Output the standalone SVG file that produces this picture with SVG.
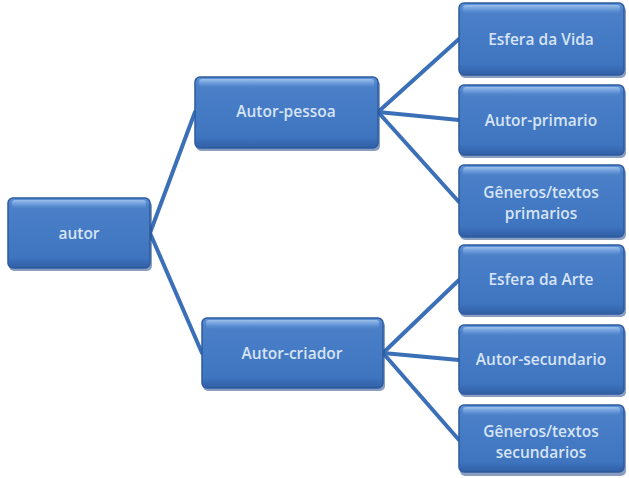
<svg xmlns="http://www.w3.org/2000/svg" width="629" height="478" viewBox="0 0 629 478">
<defs>
<linearGradient id="g" x1="0" y1="0" x2="0" y2="1">
<stop offset="0" stop-color="#5f94d8"/>
<stop offset="0.12" stop-color="#4b80c9"/>
<stop offset="0.85" stop-color="#3f74bf"/>
<stop offset="1" stop-color="#2f5fa6"/>
</linearGradient>
<linearGradient id="hl" x1="0" y1="0" x2="0" y2="1">
<stop offset="0" stop-color="#9cc0ec"/>
<stop offset="1" stop-color="#6a9bdc" stop-opacity="0"/>
</linearGradient>
<style>
.box{fill:url(#g);stroke:#2d5b9e;stroke-width:1.5}
.sh{fill:#2a4f8c;opacity:0.55}
.top{fill:url(#hl)}
.t{font-family:"Open Sans","Liberation Sans",sans-serif;font-size:15.5px;font-weight:600;fill:#d6e4f6;text-anchor:middle}
.c{stroke:#3b70b8;stroke-width:4;fill:none;stroke-linecap:round}
</style>
</defs>
<rect width="629" height="478" fill="#ffffff"/>
<g id="connectors">
<line class="c" x1="150" y1="233" x2="195" y2="112"/>
<line class="c" x1="150" y1="233" x2="202" y2="353"/>
<line class="c" x1="378" y1="112" x2="459" y2="39"/>
<line class="c" x1="378" y1="112" x2="459" y2="120"/>
<line class="c" x1="378" y1="112" x2="459" y2="202"/>
<line class="c" x1="383" y1="353" x2="459" y2="280"/>
<line class="c" x1="383" y1="353" x2="459" y2="360"/>
<line class="c" x1="383" y1="353" x2="459" y2="440"/>
</g>
<g id="n-autor">
<rect class="sh" x="9" y="201" width="143" height="70" rx="5"/>
<rect class="box" x="8" y="198" width="142" height="70" rx="5"/>
<rect class="top" x="12" y="200" width="134" height="9" rx="3"/>
<text class="t" x="79" y="239">autor</text>
</g>
<g id="n-pessoa">
<rect class="sh" x="196" y="80" width="184" height="71" rx="5"/>
<rect class="box" x="195" y="77" width="183" height="71" rx="5"/>
<rect class="top" x="199" y="79" width="175" height="9" rx="3"/>
<text class="t" x="286" y="117">Autor-pessoa</text>
</g>
<g id="n-criador">
<rect class="sh" x="203" y="321" width="182" height="70" rx="5"/>
<rect class="box" x="202" y="318" width="181" height="70" rx="5"/>
<rect class="top" x="206" y="320" width="173" height="9" rx="3"/>
<text class="t" x="292" y="359">Autor-criador</text>
</g>
<g id="n-vida">
<rect class="sh" x="460" y="6" width="166" height="72" rx="5"/>
<rect class="box" x="459" y="3" width="165" height="72" rx="5"/>
<rect class="top" x="463" y="5" width="157" height="9" rx="3"/>
<text class="t" x="541" y="45">Esfera da Vida</text>
</g>
<g id="n-primario">
<rect class="sh" x="460" y="88" width="166" height="70" rx="5"/>
<rect class="box" x="459" y="85" width="165" height="70" rx="5"/>
<rect class="top" x="463" y="87" width="157" height="9" rx="3"/>
<text class="t" x="541" y="126">Autor-primario</text>
</g>
<g id="n-gen1">
<rect class="sh" x="460" y="168" width="166" height="72" rx="5"/>
<rect class="box" x="459" y="165" width="165" height="72" rx="5"/>
<rect class="top" x="463" y="167" width="157" height="9" rx="3"/>
<text class="t" x="541" y="198">Gêneros/textos</text>
<text class="t" x="541" y="219">primarios</text>
</g>
<g id="n-arte">
<rect class="sh" x="460" y="248" width="166" height="69" rx="5"/>
<rect class="box" x="459" y="245" width="165" height="69" rx="5"/>
<rect class="top" x="463" y="247" width="157" height="9" rx="3"/>
<text class="t" x="541" y="285">Esfera da Arte</text>
</g>
<g id="n-secundario">
<rect class="sh" x="460" y="328" width="166" height="69" rx="5"/>
<rect class="box" x="459" y="325" width="165" height="69" rx="5"/>
<rect class="top" x="463" y="327" width="157" height="9" rx="3"/>
<text class="t" x="541" y="365">Autor-secundario</text>
</g>
<g id="n-gen2">
<rect class="sh" x="460" y="408" width="166" height="68" rx="5"/>
<rect class="box" x="459" y="405" width="165" height="67" rx="5"/>
<rect class="top" x="463" y="407" width="157" height="9" rx="3"/>
<text class="t" x="541" y="437">Gêneros/textos</text>
<text class="t" x="541" y="458">secundarios</text>
</g>
</svg>
